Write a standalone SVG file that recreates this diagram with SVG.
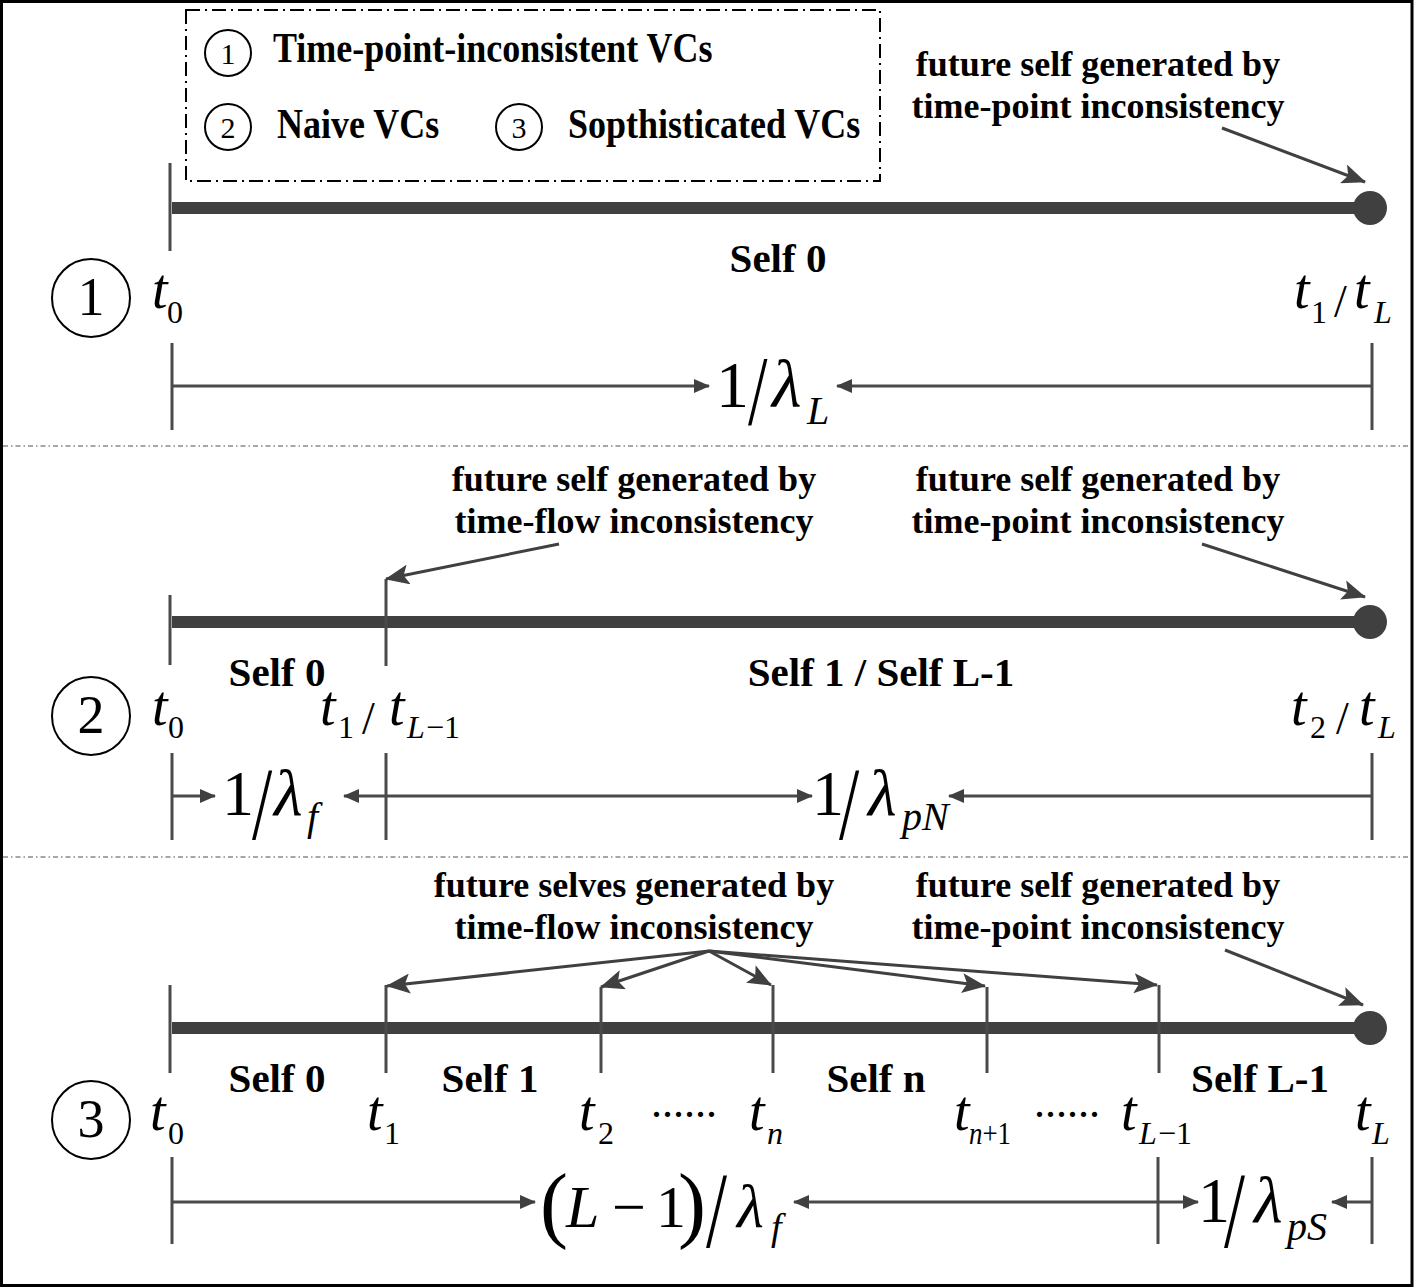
<svg xmlns="http://www.w3.org/2000/svg" width="1416" height="1288" viewBox="0 0 1416 1288">
<style>
.lbl{font-family:"Liberation Serif","Times New Roman",serif;font-weight:bold;font-size:36px;fill:#000}
.self{font-size:41px}
.mi{font-family:"Liberation Serif","Times New Roman",serif;font-style:italic;fill:#000}
.mn{font-family:"Liberation Serif","Times New Roman",serif;fill:#000}
.bar{stroke:#404040;stroke-width:12;fill:none}
.tick{stroke:#4a4a4a;stroke-width:3;fill:none}
.dim{stroke:#4a4a4a;stroke-width:3;fill:none}
.ann{stroke:#404040;stroke-width:3;fill:none}
.dot{fill:#404040}
.sep{stroke:#8a8a8a;stroke-width:1.5;stroke-dasharray:5 3 1.5 3;fill:none}
.circ{fill:none;stroke:#000;stroke-width:2}
</style>
<defs>
<marker id="ah" markerUnits="userSpaceOnUse" markerWidth="16" markerHeight="14" refX="15" refY="7" orient="auto">
<path d="M0,0 L16,7 L0,14 z" fill="#404040"/>
</marker>
<marker id="ahb" markerUnits="userSpaceOnUse" markerWidth="24" markerHeight="20" refX="23" refY="10" orient="auto">
<path d="M0,0 L24,10 L0,20 L5,10 z" fill="#404040"/>
</marker>
</defs>
<rect x="1.5" y="1.5" width="1410.5" height="1284" fill="#fff" stroke="#000" stroke-width="3"/>
<g id="legend">
<rect x="186" y="10" width="694" height="171" fill="none" stroke="#000" stroke-width="2" stroke-dasharray="14 5 2 5"/>
<circle class="circ" cx="228" cy="53" r="23"/>
<text class="mn" x="228" y="64" font-size="30" text-anchor="middle">1</text>
<text class="lbl" transform="translate(273,62) scale(1,1.15)">Time-point-inconsistent VCs</text>
<circle class="circ" cx="228" cy="127" r="23"/>
<text class="mn" x="228" y="138" font-size="30" text-anchor="middle">2</text>
<text class="lbl" transform="translate(277,138) scale(1,1.15)">Naive VCs</text>
<circle class="circ" cx="519" cy="127" r="23"/>
<text class="mn" x="519" y="138" font-size="30" text-anchor="middle">3</text>
<text class="lbl" transform="translate(568,138) scale(1,1.15)">Sopthisticated VCs</text>
</g>
<g id="separators">
<line class="sep" x1="3" y1="446" x2="1411" y2="446"/>
<line class="sep" x1="3" y1="857" x2="1411" y2="857"/>
</g>
<g id="section1">
<line class="bar" x1="172" y1="208" x2="1370" y2="208"/>
<circle class="dot" cx="1370" cy="208" r="17"/>
<line class="tick" x1="170" y1="163" x2="170" y2="251"/>
<text class="lbl self" x="778" y="272" text-anchor="middle">Self 0</text>
<circle class="circ" cx="91" cy="298" r="39"/>
<text class="mn" x="91" y="315" font-size="54" text-anchor="middle">1</text>
<text class="mi" x="152" y="308" font-size="56">t</text>
<text class="mn" x="167" y="323" font-size="32">0</text>
<text class="mi" x="1294" y="308" font-size="56">t</text>
<text class="mn" x="1311" y="323" font-size="32">1</text>
<text class="mn" x="1334" y="317" font-size="46">/</text>
<text class="mi" x="1354" y="308" font-size="56">t</text>
<text class="mi" x="1374" y="323" font-size="32">L</text>
<text class="lbl" x="1098" y="76" text-anchor="middle">future self generated by</text>
<text class="lbl" x="1098" y="118" text-anchor="middle">time-point inconsistency</text>
<text class="mn" x="716" y="407" font-size="66">1</text>
<text class="mn" transform="translate(748,424) scale(0.7,1)" font-size="100">/</text>
<text class="mi" x="772" y="407" font-size="68">λ</text>
<text class="mi" x="807" y="424" font-size="40">L</text>
</g>
<g id="section2">
<line class="bar" x1="172" y1="622" x2="1370" y2="622"/>
<circle class="dot" cx="1370" cy="622" r="17"/>
<line class="tick" x1="170" y1="595" x2="170" y2="665"/>
<line class="tick" x1="386" y1="579" x2="386" y2="666"/>
<text class="lbl self" x="277" y="686" text-anchor="middle">Self 0</text>
<text class="lbl self" x="881" y="686" text-anchor="middle">Self 1 / Self L-1</text>
<circle class="circ" cx="91" cy="716" r="39"/>
<text class="mn" x="91" y="733" font-size="54" text-anchor="middle">2</text>
<text class="mi" x="152" y="725" font-size="56">t</text>
<text class="mn" x="168" y="738" font-size="32">0</text>
<text class="mi" x="320" y="725" font-size="56">t</text>
<text class="mn" x="338" y="738" font-size="32">1</text>
<text class="mn" x="362" y="734" font-size="46">/</text>
<text class="mi" x="389" y="725" font-size="56">t</text>
<text class="mi" x="407" y="738" font-size="32">L</text>
<text class="mn" x="426" y="738" font-size="32">−1</text>
<text class="mi" x="1291" y="725" font-size="56">t</text>
<text class="mn" x="1310" y="738" font-size="32">2</text>
<text class="mn" x="1336" y="734" font-size="46">/</text>
<text class="mi" x="1359" y="725" font-size="56">t</text>
<text class="mi" x="1378" y="738" font-size="32">L</text>
<text class="lbl" x="634" y="491" text-anchor="middle">future self generated by</text>
<text class="lbl" x="634" y="533" text-anchor="middle">time-flow inconsistency</text>
<text class="lbl" x="1098" y="491" text-anchor="middle">future self generated by</text>
<text class="lbl" x="1098" y="533" text-anchor="middle">time-point inconsistency</text>
<text class="mn" x="222" y="815" font-size="64">1</text>
<text class="mn" transform="translate(252,839) scale(0.7,1)" font-size="104">/</text>
<text class="mi" x="274" y="815" font-size="66">λ</text>
<text class="mi" x="307" y="830" font-size="40">f</text>
<text class="mn" x="812" y="815" font-size="64">1</text>
<text class="mn" transform="translate(839,839) scale(0.7,1)" font-size="104">/</text>
<text class="mi" x="868" y="815" font-size="66">λ</text>
<text class="mi" x="902" y="830" font-size="40">pN</text>
</g>
<g id="section3">
<line class="bar" x1="172" y1="1028" x2="1370" y2="1028"/>
<circle class="dot" cx="1370" cy="1028" r="17"/>
<line class="tick" x1="170" y1="985" x2="170" y2="1073"/>
<line class="tick" x1="386" y1="985" x2="386" y2="1073"/>
<line class="tick" x1="601" y1="987" x2="601" y2="1073"/>
<line class="tick" x1="773" y1="985" x2="773" y2="1073"/>
<line class="tick" x1="987" y1="987" x2="987" y2="1073"/>
<line class="tick" x1="1159" y1="985" x2="1159" y2="1073"/>
<text class="lbl self" x="277" y="1092" text-anchor="middle">Self 0</text>
<text class="lbl self" x="490" y="1092" text-anchor="middle">Self 1</text>
<text class="lbl self" x="876" y="1092" text-anchor="middle">Self n</text>
<text class="lbl self" x="1260" y="1092" text-anchor="middle">Self L-1</text>
<circle class="circ" cx="91" cy="1120" r="39"/>
<text class="mn" x="91" y="1137" font-size="54" text-anchor="middle">3</text>
<text class="mi" x="150" y="1130" font-size="56">t</text>
<text class="mn" x="168" y="1144" font-size="32">0</text>
<text class="mi" x="367" y="1130" font-size="56">t</text>
<text class="mn" x="384" y="1144" font-size="32">1</text>
<text class="mi" x="579" y="1130" font-size="56">t</text>
<text class="mn" x="598" y="1144" font-size="32">2</text>
<text class="mn" x="651" y="1117" font-size="44">......</text>
<text class="mi" x="749" y="1130" font-size="56">t</text>
<text class="mi" x="767" y="1144" font-size="32">n</text>
<text class="mi" x="954" y="1130" font-size="56">t</text>
<text class="mi" x="969" y="1144" font-size="32" textLength="42" lengthAdjust="spacingAndGlyphs">n<tspan class="mn" font-style="normal">+1</tspan></text>
<text class="mn" x="1034" y="1117" font-size="44">......</text>
<text class="mi" x="1121" y="1130" font-size="56">t</text>
<text class="mi" x="1139" y="1144" font-size="32">L</text>
<text class="mn" x="1158" y="1144" font-size="32">−1</text>
<text class="mi" x="1355" y="1130" font-size="56">t</text>
<text class="mi" x="1372" y="1144" font-size="32">L</text>
<text class="lbl" x="634" y="897" text-anchor="middle">future selves generated by</text>
<text class="lbl" x="634" y="939" text-anchor="middle">time-flow inconsistency</text>
<text class="lbl" x="1098" y="897" text-anchor="middle">future self generated by</text>
<text class="lbl" x="1098" y="939" text-anchor="middle">time-point inconsistency</text>
<text class="mn" x="540" y="1232" font-size="84">(</text>
<text class="mi" x="566" y="1227" font-size="60">L</text>
<text class="mn" x="612" y="1227" font-size="60">−</text>
<text class="mn" x="656" y="1227" font-size="60">1</text>
<text class="mn" x="678" y="1232" font-size="84">)</text>
<text class="mn" transform="translate(706,1247) scale(0.7,1)" font-size="108">/</text>
<text class="mi" x="737" y="1227" font-size="62">λ</text>
<text class="mi" x="771" y="1240" font-size="38">f</text>
<text class="mn" x="1198" y="1222" font-size="64">1</text>
<text class="mn" transform="translate(1224,1247) scale(0.7,1)" font-size="108">/</text>
<text class="mi" x="1254" y="1222" font-size="66">λ</text>
<text class="mi" x="1287" y="1240" font-size="40">pS</text>
</g>
<g id="connectors">
<line class="ann" x1="1222" y1="128" x2="1365" y2="182" marker-end="url(#ahb)"/>
<line class="tick" x1="172" y1="343" x2="172" y2="430"/>
<line class="tick" x1="1372" y1="343" x2="1372" y2="430"/>
<line class="dim" x1="172" y1="386" x2="709" y2="386" marker-end="url(#ah)"/>
<line class="dim" x1="1372" y1="386" x2="837" y2="386" marker-end="url(#ah)"/>
<line class="ann" x1="559" y1="544" x2="386" y2="579" marker-end="url(#ahb)"/>
<line class="ann" x1="1202" y1="544" x2="1365" y2="597" marker-end="url(#ahb)"/>
<line class="tick" x1="172" y1="753" x2="172" y2="840"/>
<line class="tick" x1="386" y1="753" x2="386" y2="840"/>
<line class="tick" x1="1372" y1="753" x2="1372" y2="840"/>
<line class="dim" x1="172" y1="796" x2="215" y2="796" marker-end="url(#ah)"/>
<line class="dim" x1="386" y1="796" x2="344" y2="796" marker-end="url(#ah)"/>
<line class="dim" x1="386" y1="796" x2="812" y2="796" marker-end="url(#ah)"/>
<line class="dim" x1="1372" y1="796" x2="949" y2="796" marker-end="url(#ah)"/>
<line class="ann" x1="709" y1="951" x2="387" y2="986" marker-end="url(#ahb)"/>
<line class="ann" x1="709" y1="951" x2="601" y2="987" marker-end="url(#ahb)"/>
<line class="ann" x1="709" y1="951" x2="771" y2="985" marker-end="url(#ahb)"/>
<line class="ann" x1="709" y1="951" x2="985" y2="986" marker-end="url(#ahb)"/>
<line class="ann" x1="709" y1="951" x2="1157" y2="985" marker-end="url(#ahb)"/>
<line class="ann" x1="1225" y1="950" x2="1363" y2="1005" marker-end="url(#ahb)"/>
<line class="tick" x1="172" y1="1157" x2="172" y2="1244"/>
<line class="tick" x1="1158" y1="1157" x2="1158" y2="1244"/>
<line class="tick" x1="1372" y1="1157" x2="1372" y2="1244"/>
<line class="dim" x1="172" y1="1202" x2="535" y2="1202" marker-end="url(#ah)"/>
<line class="dim" x1="1158" y1="1202" x2="794" y2="1202" marker-end="url(#ah)"/>
<line class="dim" x1="1158" y1="1202" x2="1198" y2="1202" marker-end="url(#ah)"/>
<line class="dim" x1="1372" y1="1202" x2="1332" y2="1202" marker-end="url(#ah)"/>
</g>
</svg>
